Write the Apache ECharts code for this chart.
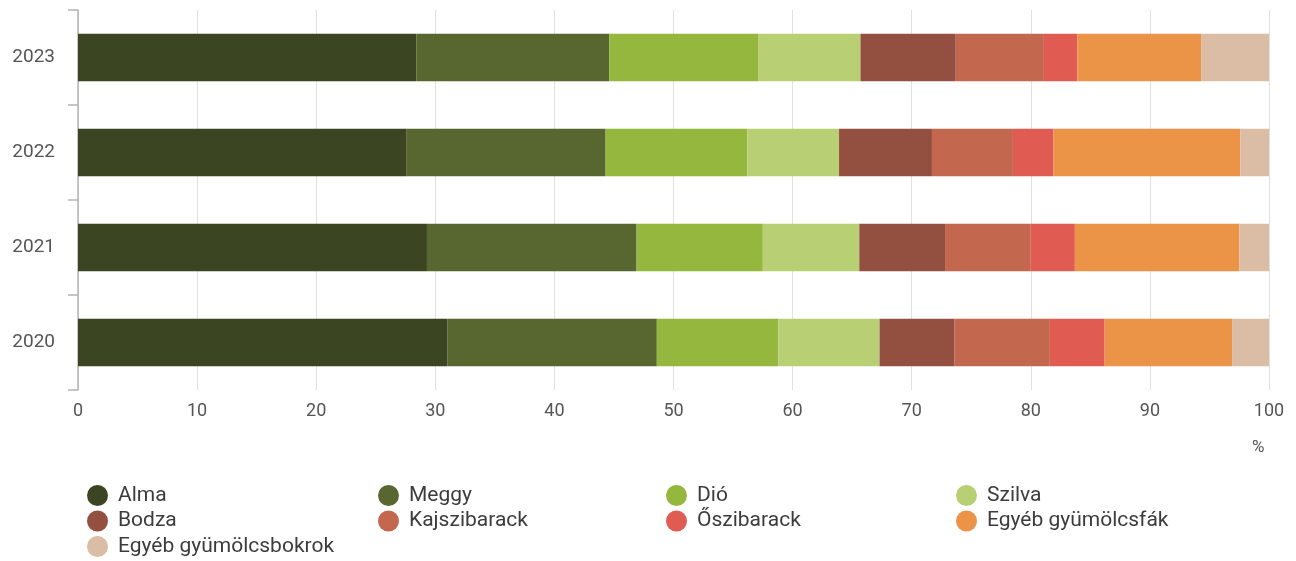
<!DOCTYPE html>
<html>
<head>
<meta charset="utf-8">
<script src="https://cdn.jsdelivr.net/npm/echarts@6/dist/echarts.min.js"></script>
<style>
  html, body { margin: 0; padding: 0; background: #fff; }
  #chart { width: 1296px; height: 561px; }
</style>
</head>
<body>
<div id="chart"></div>
<script>
var years = ['2020', '2021', '2022', '2023'];
var xTicks = [0, 10, 20, 30, 40, 50, 60, 70, 80, 90, 100];

// share of each fruit, per year (2020, 2021, 2022, 2023)
var alma = [31.0, 29.3, 27.6, 28.4];
var meggy = [17.6, 17.6, 16.7, 16.2];
var dio = [10.2, 10.6, 11.9, 12.5];
var szilva = [8.5, 8.1, 7.7, 8.6];
var bodza = [6.3, 7.2, 7.8, 8.0];
var kajszibarack = [8.0, 7.2, 6.8, 7.4];
var oszibarack = [4.6, 3.7, 3.4, 2.8];
var egyebFak = [10.7, 13.8, 15.7, 10.4];
var egyebBokrok = [3.1, 2.5, 2.4, 5.7];

var fruits = [
  { name: 'Alma', data: alma, color: '#3b4522' },
  { name: 'Meggy', data: meggy, color: '#586730' },
  { name: 'Dió', data: dio, color: '#95b73e' },
  { name: 'Szilva', data: szilva, color: '#b9cf74' },
  { name: 'Bodza', data: bodza, color: '#934f40' },
  { name: 'Kajszibarack', data: kajszibarack, color: '#c4674f' },
  { name: 'Őszibarack', data: oszibarack, color: '#e05c52' },
  { name: 'Egyéb gyümölcsfák', data: egyebFak, color: '#eb9448' },
  { name: 'Egyéb gyümölcsbokrok', data: egyebBokrok, color: '#dbbca4' }
];

var legendCols = [
  { left: 87, names: ['Alma', 'Bodza', 'Egyéb gyümölcsbokrok'] },
  { left: 378, names: ['Meggy', 'Kajszibarack'] },
  { left: 666, names: ['Dió', 'Őszibarack'] },
  { left: 956, names: ['Szilva', 'Egyéb gyümölcsfák'] }
];

var myChart = echarts.init(document.getElementById('chart'));

var option = {
  backgroundColor: '#fff',
  animation: false,
  textStyle: { fontFamily: 'Roboto' },
  title: {
    text: '%',
    left: 1252,
    top: 439,
    padding: 0,
    textStyle: { color: '#555', fontSize: 17, fontWeight: 'normal' }
  },
  legend: legendCols.map(function (c) {
    return {
      orient: 'vertical',
      left: c.left,
      top: 485,
      height: 80,
      padding: 0,
      itemWidth: 21,
      itemHeight: 21,
      itemGap: 4.5,
      icon: 'circle',
      data: c.names,
      textStyle: { color: '#3c3c3c', fontSize: 21, padding: [0, 0, 0, 5] }
    };
  }),
  grid: {
    left: 78,
    right: 27,
    top: 10,
    bottom: 171,
    containLabel: false
  },
  xAxis: {
    type: 'value',
    min: 0,
    max: 100,
    interval: 10,
    axisLine: { show: false },
    axisTick: { show: false },
    axisLabel: {
      color: '#555',
      fontSize: 18,
      margin: 12,
      formatter: function (v) { return xTicks.indexOf(v) >= 0 ? String(v) : ''; }
    },
    splitLine: { show: true, lineStyle: { color: '#e0e0e0', width: 1 } }
  },
  yAxis: {
    type: 'category',
    data: years,
    axisLine: { show: true, lineStyle: { color: '#b4b4b8', width: 1.5 } },
    axisTick: { show: true, length: 10, lineStyle: { color: '#b4b4b8', width: 1.5 } },
    axisLabel: { color: '#555', fontSize: 19, margin: 23 }
  },
  series: fruits.map(function (f) {
    return {
      name: f.name,
      type: 'bar',
      stack: 'total',
      barWidth: '50%',
      data: f.data,
      itemStyle: { color: f.color }
    };
  })
};

myChart.setOption(option);
</script>
</body>
</html>
